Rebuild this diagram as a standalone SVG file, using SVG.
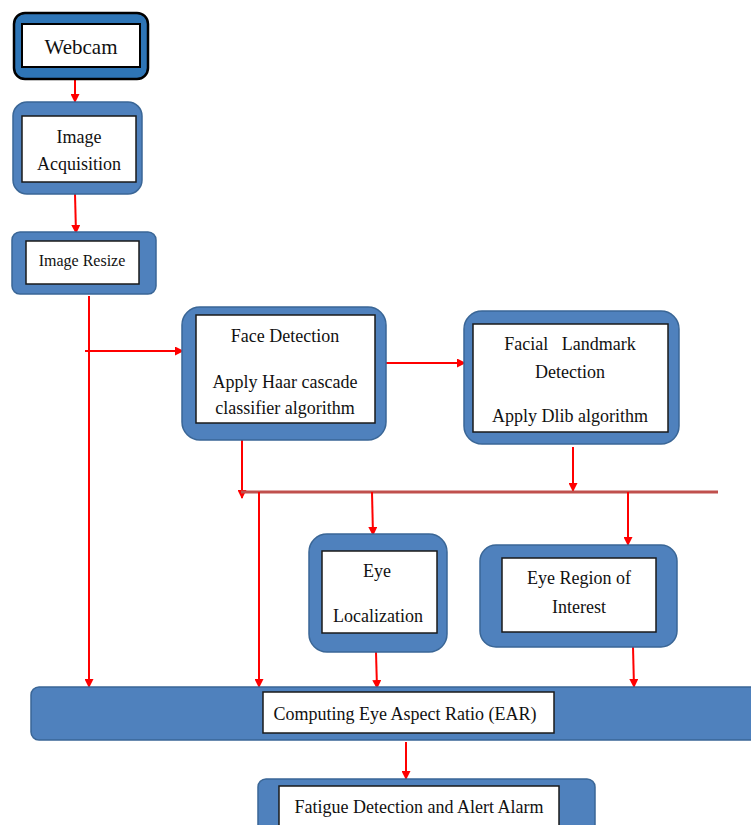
<svg xmlns="http://www.w3.org/2000/svg" width="751" height="825" viewBox="0 0 751 825">
<defs>
<style>
.outer{fill:#4f81bd;stroke:#3a6696;stroke-width:1.5}
.inner{fill:#ffffff;stroke:#1a1a1a;stroke-width:1.5}
.t{font-family:"Liberation Serif","Times New Roman",serif;font-size:18px;fill:#111;text-anchor:middle;white-space:pre}
.c{stroke:#ff0000;stroke-width:2;fill:none}
.ca{stroke:#ff0000;stroke-width:2;fill:none;marker-end:url(#ah)}
.bus{stroke:#c0504d;stroke-width:3;fill:none}
</style>
<marker id="ah" markerWidth="9" markerHeight="9" refX="8" refY="4.5" orient="auto" markerUnits="userSpaceOnUse">
<path d="M0,0 L9,4.5 L0,9 z" fill="#ff0000"/>
</marker>
</defs>
<rect width="751" height="825" fill="#ffffff"/>

<g id="connectors">
<path class="ca" d="M75,79 L75,102"/>
<path class="ca" d="M75,194 L76,233"/>
<path class="ca" d="M89,296 L89,687"/>
<path class="ca" d="M85,351 L183,351"/>
<path class="ca" d="M386,363 L465,363"/>
<path class="ca" d="M242,440 L242,498"/>
<path class="ca" d="M573,447 L573,491"/>
<path class="bus" d="M241,492 L718,492"/>
<path class="ca" d="M259,492 L259,687"/>
<path class="ca" d="M372,492 L373,535"/>
<path class="ca" d="M628,492 L628,545"/>
<path class="ca" d="M376,652 L377,688"/>
<path class="ca" d="M633,647 L634,687"/>
<path class="ca" d="M406,742 L406,779"/>
</g>

<g id="webcam">
<rect x="14" y="13" width="134" height="66" rx="11" fill="#2e75b6" stroke="#000" stroke-width="2.5"/>
<rect x="22" y="24" width="118" height="43" fill="#fff" stroke="#000" stroke-width="2"/>
<text class="t" x="81" y="54" style="font-size:21px">Webcam</text>
</g>

<g id="image-acquisition">
<rect class="outer" x="13" y="102" width="129" height="92" rx="14"/>
<rect class="inner" x="22" y="116" width="114" height="66"/>
<text class="t" x="79" y="143">Image</text>
<text class="t" x="79" y="170">Acquisition</text>
</g>

<g id="image-resize">
<rect class="outer" x="12" y="232" width="144" height="62" rx="8"/>
<rect class="inner" x="26" y="241" width="113" height="43"/>
<text class="t" x="82" y="266" style="font-size:16px">Image Resize</text>
</g>

<g id="face-detection">
<rect class="outer" x="182" y="307" width="204" height="133" rx="18"/>
<rect class="inner" x="196" y="315" width="179" height="108"/>
<text class="t" x="285" y="342">Face Detection</text>
<text class="t" x="285" y="388">Apply Haar cascade</text>
<text class="t" x="285" y="414">classifier algorithm</text>
</g>

<g id="facial-landmark">
<rect class="outer" x="464" y="311" width="215" height="133" rx="18"/>
<rect class="inner" x="473" y="324" width="195" height="108"/>
<text class="t" x="570" y="350">Facial   Landmark</text>
<text class="t" x="570" y="378">Detection</text>
<text class="t" x="570" y="422">Apply Dlib algorithm</text>
</g>

<g id="eye-localization">
<rect class="outer" x="309" y="534" width="138" height="118" rx="18"/>
<rect class="inner" x="322" y="551" width="115" height="82"/>
<text class="t" x="377" y="577">Eye</text>
<text class="t" x="378" y="622">Localization</text>
</g>

<g id="eye-region">
<rect class="outer" x="480" y="545" width="197" height="102" rx="16"/>
<rect class="inner" x="502" y="558" width="154" height="74"/>
<text class="t" x="579" y="584">Eye Region of</text>
<text class="t" x="579" y="613">Interest</text>
</g>

<g id="ear">
<rect class="outer" x="31" y="687" width="740" height="53" rx="8"/>
<rect class="inner" x="263" y="692" width="291" height="41"/>
<text class="t" x="405" y="720">Computing Eye Aspect Ratio (EAR)</text>
</g>

<g id="fatigue">
<rect class="outer" x="258" y="779" width="337" height="60" rx="8"/>
<rect class="inner" x="279" y="786" width="280" height="45"/>
<text class="t" x="419" y="813">Fatigue Detection and Alert Alarm</text>
</g>
</svg>
